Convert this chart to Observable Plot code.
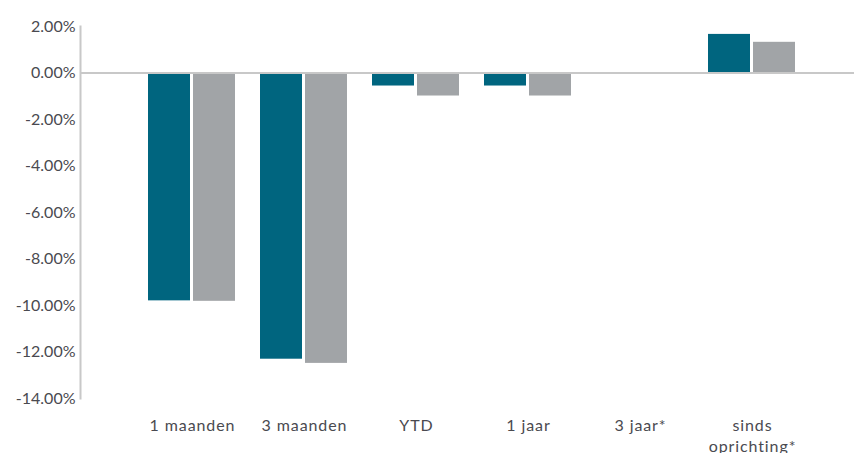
<!DOCTYPE html>
<html>
<head>
<meta charset="utf-8">
<script src="https://cdn.jsdelivr.net/npm/d3@7"></script>
<script src="https://cdn.jsdelivr.net/npm/@observablehq/plot@0.6"></script>
<style>
  html, body { margin: 0; padding: 0; background: #fff; }
  #chart svg { display: block; }
  #chart svg g[aria-label="x-axis tick label"] text { letter-spacing: 0.9px; }
</style>
</head>
<body>
<div id="chart"></div>
<script>
const categories = ["1 maanden", "3 maanden", "YTD", "1 jaar", "3 jaar*", "sinds oprichting*"];
const fundValues = [-9.80, -12.31, -0.56, -0.56, null, 1.66];
const benchmarkValues = [-9.82, -12.49, -0.99, -0.99, null, 1.32];
const yTicks = [2, 0, -2, -4, -6, -8, -10, -12, -14];

const fund = categories.map((c, i) => ({cat: c, v: fundValues[i]})).filter(d => d.v != null);
const bench = categories.map((c, i) => ({cat: c, v: benchmarkValues[i]})).filter(d => d.v != null);

const chart = Plot.plot({
  width: 854,
  height: 453,
  marginLeft: 80,
  marginRight: 0,
  marginTop: 26,
  marginBottom: 55,
  style: {fontFamily: "Lato, sans-serif", fontSize: "16px", color: "#4a4a50", background: "#fff"},
  x: {domain: categories, range: [136, 808], padding: 0, label: null},
  y: {domain: [-14, 2], label: null},
  marks: [
    Plot.frame({anchor: "left", stroke: "#c8c8c8", strokeWidth: 2}),
    Plot.barY(fund, {x: "cat", y: "v", fill: "#00657f", insetLeft: 12, insetRight: 58}),
    Plot.barY(bench, {x: "cat", y: "v", fill: "#a1a4a7", insetLeft: 57, insetRight: 13}),
    Plot.ruleY([0], {stroke: "#c8c8c8", strokeWidth: 2}),
    Plot.axisY({ticks: yTicks, tickSize: 0, tickPadding: 5, tickFormat: d => d.toFixed(2) + "%", fontSize: 16}),
    Plot.axisX({tickSize: 0, tickPadding: 17, fontSize: 16, lineHeight: 1.35,
      tickFormat: d => d === "sinds oprichting*" ? "sinds\noprichting*" : d})
  ]
});
document.getElementById("chart").appendChild(chart);
</script>
</body>
</html>
